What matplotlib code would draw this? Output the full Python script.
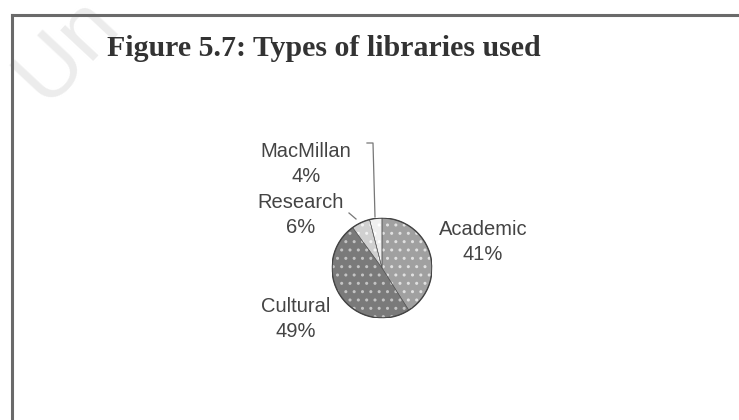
import numpy as np
import matplotlib.pyplot as plt
from matplotlib.lines import Line2D

# data
names = ['Academic', 'Cultural', 'Research', 'MacMillan']
shares = [41, 49, 6, 4]
greys = ['#a0a0a0', '#7a7a7a', '#d0d0d0', '#efefef']
dots = ['#e0e0e0', '#c4c4c4', '#f2f2f2', '#ffffff']

fig = plt.figure(figsize=(7.39, 4.20), dpi=100)
fig.patch.set_facecolor('white')

# faint scan watermark
fig.text(0/739, 1 - 100/420, 'Un', rotation=47, fontsize=62, color='#ececec',
         family='Liberation Sans', ha='left', va='baseline', zorder=0)

# frame of the scanned box (top and left edges only are visible)
fig.add_artist(Line2D([12/739, 1], [1 - 15/420, 1 - 15/420], color='#6a6a6a', lw=2.2, zorder=2))
fig.add_artist(Line2D([12/739, 12/739], [0, 1 - 15/420], color='#6a6a6a', lw=2.2, zorder=2))

fig.text(107/739, 1 - 49/420, 'Figure 5.7: Types of libraries used', family='Liberation Serif',
         weight='bold', fontsize=21.5, color='#333333', ha='left', va='center')

# pie axis: centre at (382,268) px, radius 50 px
ax = fig.add_axes([(382 - 50)/739, (420 - 318)/420, 100/739, 100/420])

wedges, _ = ax.pie(shares, startangle=90, counterclock=False, colors=greys, radius=1,
                   wedgeprops=dict(linewidth=0))
for w, d in zip(wedges, dots):
    w.set_hatch('..')
    w.set_edgecolor(d)
ax.pie(shares, startangle=90, counterclock=False, radius=1,
       wedgeprops=dict(fill=False, edgecolor='#555555', linewidth=0.4))
circ = plt.Circle((0, 0), 1, fill=False, edgecolor='#444444', lw=1.0)
ax.add_patch(circ)
ax.set_xlim(-1, 1)
ax.set_ylim(-1, 1)
ax.set_aspect('equal')
ax.axis('off')

# label positions (px) for each slice
lab_px = [(483, 242), (296, 319), (301, 215), (306, 164)]
for name, val, (px, py) in zip(names, shares, lab_px):
    ax.text((px - 382)/50, (268 - py)/50, '%s\n%d%%' % (name, val), ha='center', va='center',
            family='Liberation Sans', fontsize=14.5, color='#444444', linespacing=1.42, clip_on=False)

# leader lines for the two small slices
ax.plot([(367 - 382)/50, (373 - 382)/50, (375 - 382)/50], [(268 - 143)/50, (268 - 143)/50, (268 - 217)/50],
        color='#777777', lw=0.9, clip_on=False)
ax.plot([(349 - 382)/50, (356 - 382)/50], [(268 - 213)/50, (268 - 219)/50],
        color='#777777', lw=0.9, clip_on=False)

fig.savefig('out.png', dpi=100)
